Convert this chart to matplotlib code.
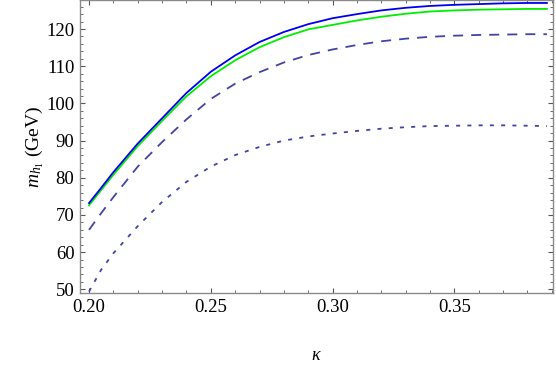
import matplotlib
matplotlib.use("Agg")
import matplotlib.pyplot as plt
from matplotlib.ticker import MultipleLocator, FormatStrFormatter

kappa = [0.20, 0.205, 0.21, 0.22, 0.23, 0.24, 0.25, 0.26, 0.27, 0.28, 0.29,
         0.30, 0.31, 0.32, 0.33, 0.34, 0.35, 0.36, 0.37, 0.38, 0.388]
m_blue = [73.2, 77.3, 81.5, 89.2, 96.0, 102.8, 108.5, 112.9, 116.5, 119.2, 121.3,
          122.9, 124.0, 125.0, 125.7, 126.2, 126.5, 126.7, 126.9, 127.0, 127.0]
m_green = [72.6, 76.7, 80.8, 88.5, 95.3, 101.9, 107.3, 111.6, 115.1, 117.8, 119.9,
           121.1, 122.3, 123.3, 124.1, 124.7, 125.0, 125.2, 125.3, 125.4, 125.4]
m_dashed = [66.0, 70.5, 74.8, 83.0, 89.6, 95.7, 101.2, 105.3, 108.4, 111.0, 113.0,
            114.5, 115.7, 116.7, 117.4, 117.9, 118.2, 118.4, 118.5, 118.6, 118.6]
m_dotted = [49.4, 55.3, 59.7, 67.0, 73.5, 78.9, 83.0, 86.1, 88.3, 90.0, 91.1,
            91.9, 92.6, 93.2, 93.6, 93.9, 94.0, 94.1, 94.1, 94.0, 93.9]

plt.rcParams['font.family'] = ['Liberation Serif', 'DejaVu Serif']
plt.rcParams['mathtext.fontset'] = 'custom'
plt.rcParams['mathtext.rm'] = 'Liberation Serif'
plt.rcParams['mathtext.it'] = 'Liberation Serif:italic'
plt.rcParams['lines.scale_dashes'] = False

fig = plt.figure(figsize=(5.56, 3.65), dpi=100)
ax = fig.add_axes([0.1439, 0.196, 0.8507, 0.803])

lw = 1.3
dcol = '#4343a3'
ax.plot(kappa, m_dotted, color=dcol, lw=lw, linestyle=(0, (2.9, 5.2)), solid_capstyle='butt')
ax.plot(kappa, m_dashed, color=dcol, lw=lw, linestyle=(0, (7.2, 5.8)))
ax.plot(kappa, m_green, color='#00ee00', lw=lw)
ax.plot(kappa, m_blue, color='#0000ee', lw=lw)

ax.set_xlim(0.1963, 0.3905)
ax.set_ylim(48.9, 127.7)

ax.xaxis.set_major_locator(MultipleLocator(0.05))
ax.xaxis.set_minor_locator(MultipleLocator(0.01))
ax.yaxis.set_major_locator(MultipleLocator(10))
ax.yaxis.set_minor_locator(MultipleLocator(2))
ax.xaxis.set_major_formatter(FormatStrFormatter('%.2f'))
ax.yaxis.set_major_formatter(FormatStrFormatter('%d'))

fc = '#8a8a8a'
for s in ax.spines.values():
    s.set_color(fc)
    s.set_linewidth(1.0)
ax.tick_params(which='both', direction='in', top=True, right=True,
               color='#555555', labelsize=13.5, labelcolor='black')
ax.tick_params(which='major', length=3.6, width=0.8, pad=4)
ax.tick_params(which='minor', length=2.2, width=0.6)

ax.set_xlabel(r'$\kappa$', fontsize=13, labelpad=22)
ax.set_ylabel(r'$m_{h_1}$ (GeV)', fontsize=14, labelpad=0.5)

fig.savefig('out.png', dpi=100)
